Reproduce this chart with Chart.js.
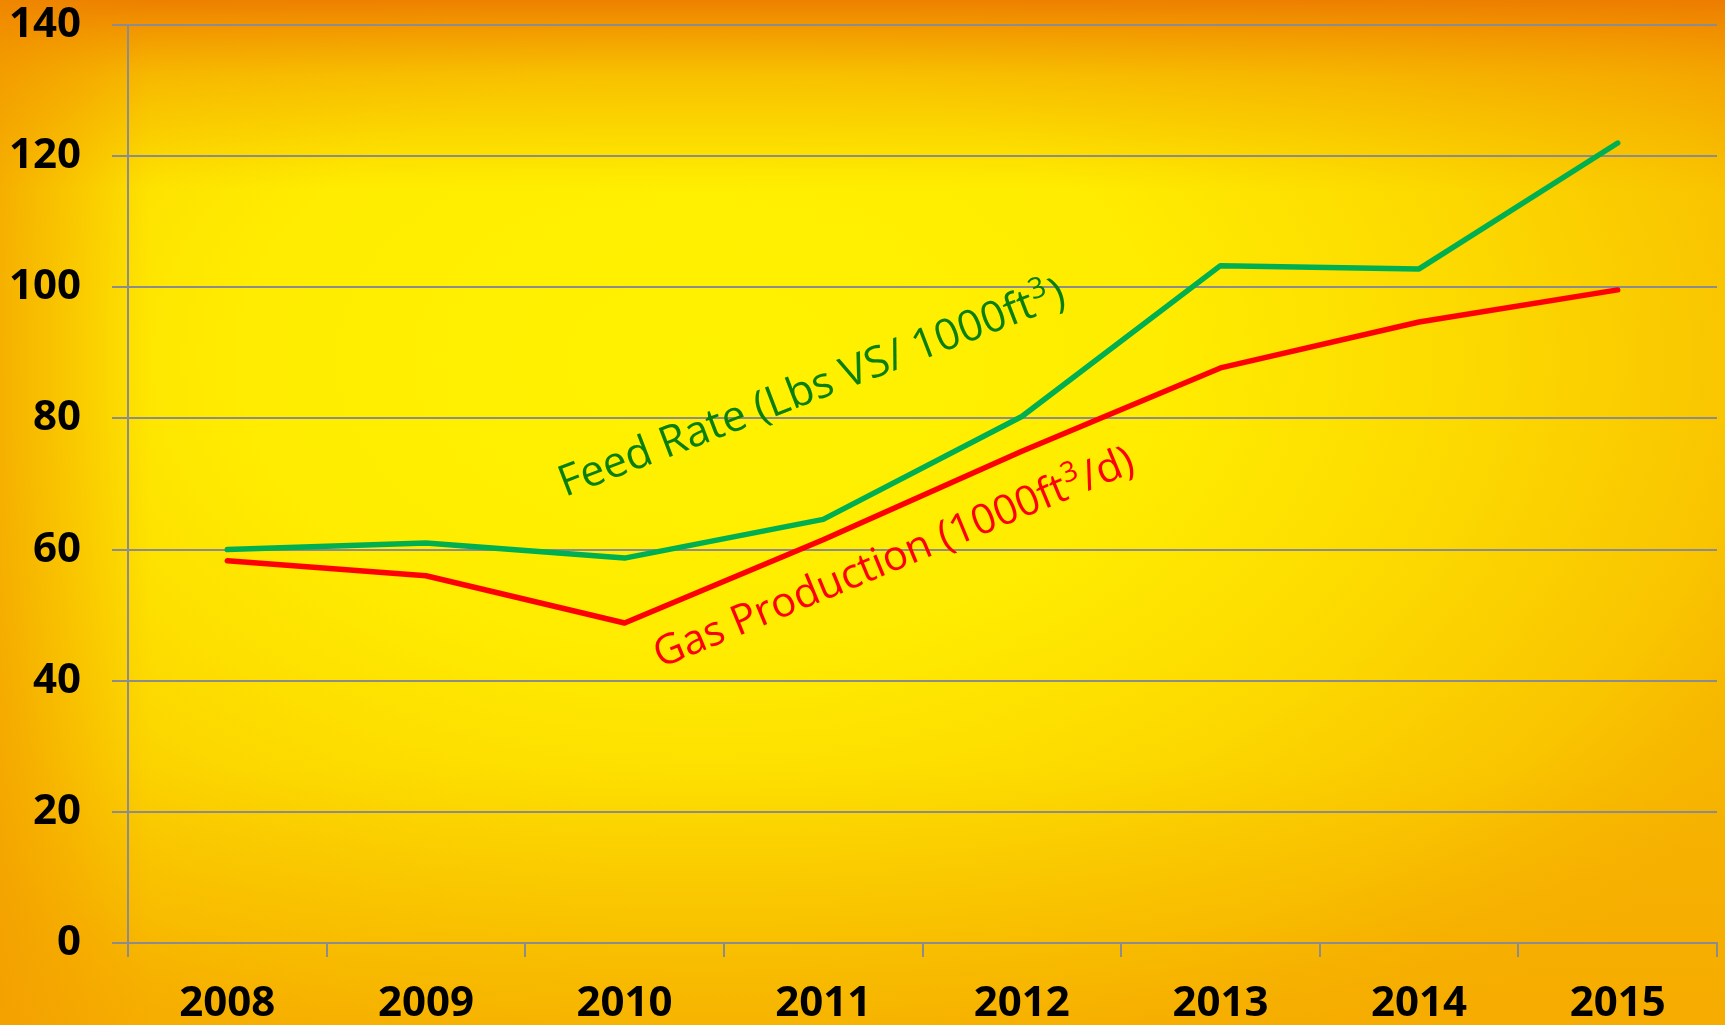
<!DOCTYPE html>
<html>
<head>
<meta charset="utf-8">
<script src="https://cdn.jsdelivr.net/npm/chart.js@4/dist/chart.umd.min.js"></script>
<style>
html, body { margin: 0; padding: 0; overflow: hidden; background: #f7b400; }
#wrap { width: 1725px; height: 1025px; }
</style>
</head>
<body>
<div id="wrap"><canvas id="gasChart" width="1725" height="1025"></canvas></div>
<script>
// values
let years = ['2008', '2009', '2010', '2011', '2012', '2013', '2014', '2015'];
let feedRate = [60, 61, 58.7, 64.6, 80.3, 103.3, 102.8, 122];
let gasProduction = [58.3, 56, 48.8, 61.5, 75, 87.7, 94.7, 99.6];
let yMin = 0;
let yMax = 140;
let yStep = 20;

// in-plot labels: [text, superscript, rest, colour, x index, y value, angle, size]
let seriesLabels = [
	['Feed Rate (Lbs VS/ 1000ft', '3', ')', '#0a800a', 1.70, 68.0, 21, 43],
	['Gas Production (1000ft', '3', '/d)', '#ff0000', 2.18, 41.9, 22.5, 41.5]
];

let gridColor = '#8c8c8c';
let tickFont = { family: "'Open Sans', 'DejaVu Sans', sans-serif", size: 42, weight: 'bold' };

let backgroundPlugin = {
	id: 'backgroundPlugin',
	beforeDraw(chart) {
		let ctx = chart.ctx;
		let w = chart.width, h = chart.height;
		ctx.save();
		ctx.fillStyle = '#f6b200';
		ctx.fillRect(0, 0, w, h);
		// bright yellow centre
		ctx.save();
		ctx.translate(700, 360);
		ctx.scale(1.6, 1);
		let g = ctx.createRadialGradient(0, 0, 0, 0, 0, 820);
		g.addColorStop(0, '#fff200');
		g.addColorStop(0.35, '#ffec00');
		g.addColorStop(0.6, '#fcd800');
		g.addColorStop(0.8, '#f9c400');
		g.addColorStop(1, 'rgba(246,178,0,0)');
		ctx.fillStyle = g;
		ctx.fillRect(-800, -800, 1600, 1600);
		ctx.restore();
		// orange band on top
		let top = ctx.createLinearGradient(0, 0, 0, 190);
		top.addColorStop(0, 'rgba(236,118,0,0.9)');
		top.addColorStop(0.4, 'rgba(240,140,0,0.45)');
		top.addColorStop(1, 'rgba(240,150,0,0)');
		ctx.fillStyle = top;
		ctx.fillRect(0, 0, w, 190);
		// orange on the left edge
		let left = ctx.createLinearGradient(0, 0, 150, 0);
		left.addColorStop(0, 'rgba(240,140,0,0.55)');
		left.addColorStop(1, 'rgba(240,140,0,0)');
		ctx.fillStyle = left;
		ctx.fillRect(0, 0, 150, h);
		// warmer bottom
		let bottom = ctx.createLinearGradient(0, h - 260, 0, h);
		bottom.addColorStop(0, 'rgba(245,170,0,0)');
		bottom.addColorStop(1, 'rgba(245,165,0,0.5)');
		ctx.fillStyle = bottom;
		ctx.fillRect(0, h - 260, w, 260);
		ctx.restore();
	}
};

let labelPlugin = {
	id: 'labelPlugin',
	afterDatasetsDraw(chart) {
		let ctx = chart.ctx;
		let xs = chart.scales.x;
		let ys = chart.scales.y;
		seriesLabels.forEach((lab) => {
			let size = lab[7];
			let px = xs.getPixelForValue(lab[4]);
			let py = ys.getPixelForValue(lab[5]);
			ctx.save();
			ctx.translate(px, py);
			ctx.rotate(-lab[6] * Math.PI / 180);
			ctx.fillStyle = lab[3];
			ctx.textBaseline = 'alphabetic';
			ctx.textAlign = 'left';
			ctx.font = size + "px 'Open Sans', sans-serif";
			ctx.fillText(lab[0], 0, 0);
			let x = ctx.measureText(lab[0]).width;
			ctx.font = Math.round(size * 0.68) + "px 'Open Sans', sans-serif";
			ctx.fillText(lab[1], x + 1, -size * 0.38);
			x += ctx.measureText(lab[1]).width + 3;
			ctx.font = size + "px 'Open Sans', sans-serif";
			ctx.fillText(lab[2], x, 0);
			ctx.restore();
		});
	}
};

let gasChart = new Chart(document.getElementById('gasChart').getContext('2d'), {
	type: 'line',
	data: {
		labels: years,
		datasets: [
			{
				label: 'Feed Rate (Lbs VS/ 1000ft³)',
				data: feedRate,
				borderColor: '#00b050',
				borderWidth: 5.5,
				pointRadius: 0,
				borderCapStyle: 'round',
				borderJoinStyle: 'round',
				fill: false
			},
			{
				label: 'Gas Production (1000ft³/d)',
				data: gasProduction,
				borderColor: '#ff0000',
				borderWidth: 5.5,
				pointRadius: 0,
				borderCapStyle: 'round',
				borderJoinStyle: 'round',
				fill: false
			}
		]
	},
	options: {
		responsive: false,
		animation: false,
		layout: { padding: { top: 25, right: 8, left: 0, bottom: 0 } },
		plugins: {
			legend: { display: false },
			tooltip: { enabled: false }
		},
		scales: {
			x: {
				offset: true,
				grid: { display: true, drawOnChartArea: false, offset: true, color: gridColor, lineWidth: 2, tickLength: 14 },
				border: { color: gridColor, width: 2 },
				ticks: { color: '#000', font: tickFont, padding: 22, maxRotation: 0 },
				afterFit(scale) { scale.height = 82; }
			},
			y: {
				min: yMin,
				max: yMax,
				grid: { color: gridColor, lineWidth: 2, tickLength: 16 },
				border: { color: gridColor, width: 2 },
				ticks: { stepSize: yStep, color: '#000', font: tickFont, padding: 31 },
				afterFit(scale) {
					scale.width = 128;
					scale.paddingTop = 0;
					scale.paddingBottom = 0;
				}
			}
		}
	},
	plugins: [backgroundPlugin, labelPlugin]
});
</script>
</body>
</html>
